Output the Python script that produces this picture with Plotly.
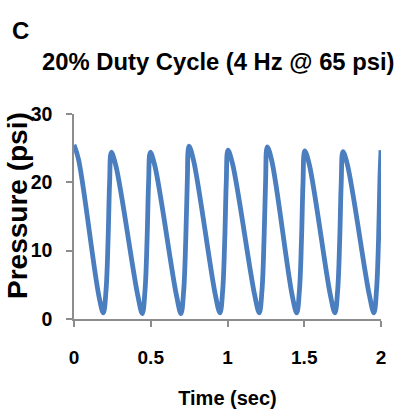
import plotly.graph_objects as go

# Time (sec) and pressure (psi) points
time_sec = [
    0.000, 0.030, 0.161, 0.191, 0.209, 0.222, 0.232,
    0.243, 0.273, 0.415, 0.445, 0.463, 0.476, 0.486,
    0.497, 0.527, 0.667, 0.697, 0.715, 0.728, 0.738,
    0.749, 0.779, 0.921, 0.951, 0.969, 0.982, 0.992,
    1.003, 1.033, 1.177, 1.207, 1.225, 1.238, 1.248,
    1.259, 1.289, 1.421, 1.451, 1.469, 1.482, 1.492,
    1.503, 1.533, 1.670, 1.700, 1.718, 1.731, 1.741,
    1.752, 1.782, 1.924, 1.954, 1.971, 1.984, 1.993,
    2.000,
]
pressure_psi = [
    25.5, 23.3, 3.5, 0.9, 4.3, 11.6, 20.0,
    24.4, 22.4, 3.5, 0.8, 4.3, 11.6, 20.0,
    24.4, 22.4, 3.5, 0.8, 4.3, 11.6, 20.0,
    25.3, 23.2, 3.5, 0.9, 4.3, 11.6, 20.0,
    24.7, 22.7, 3.5, 0.9, 4.3, 11.6, 20.0,
    25.2, 23.1, 3.5, 0.9, 4.3, 11.6, 20.0,
    24.6, 22.6, 3.5, 0.9, 4.3, 11.6, 20.0,
    24.5, 22.5, 3.5, 0.9, 4.3, 11.6, 20.5,
    24.7,
]

x_ticks = [0, 0.5, 1, 1.5, 2]
x_tick_labels = ["0", "0.5", "1", "1.5", "2"]
y_ticks = [0, 10, 20, 30]
y_tick_labels = ["0", "10", "20", "30"]

title_text = "20% Duty Cycle (4 Hz @ 65 psi)"
panel_label = "C"
x_title = "Time (sec)"
y_title = "Pressure (psi)"

FONT = "Liberation Sans, Arial, sans-serif"
AXIS_COLOR = "#8c8c8c"

ML, MR, MT, MB = 74, 19, 114, 98
W, H = 400, 417
pw, ph = W - ML - MR, H - MT - MB


def px_to_paper(px, py):
    return (px - ML) / pw, (H - MB - py) / ph


fig = go.Figure()
fig.add_trace(go.Scatter(
    x=time_sec, y=pressure_psi, mode="lines",
    line=dict(color="#4a7ebf", width=4.8, shape="spline", smoothing=1.0),
    showlegend=False,
))

tx, ty = px_to_paper(218, 61)
cx, cy = px_to_paper(20, 30)
yx, yy = px_to_paper(17, 206)
fig.update_layout(
    width=W, height=H,
    margin=dict(l=ML, r=MR, t=MT, b=MB),
    paper_bgcolor="white", plot_bgcolor="white",
    font=dict(family=FONT, color="black"),
    annotations=[
        dict(text="<b>%s</b>" % title_text, x=tx, y=ty, xref="paper", yref="paper",
             xanchor="center", yanchor="middle", showarrow=False,
             font=dict(size=23.8, family=FONT)),
        dict(text="<b>%s</b>" % panel_label, x=cx, y=cy, xref="paper", yref="paper",
             xanchor="center", yanchor="middle", showarrow=False,
             font=dict(size=24, family=FONT)),
        dict(text="<b>%s</b>" % y_title, x=yx, y=yy, xref="paper", yref="paper",
             xanchor="center", yanchor="middle", showarrow=False, textangle=-90,
             font=dict(size=28, family=FONT)),
    ],
)

fig.update_xaxes(
    range=[0, 2], tickvals=x_ticks, ticktext=["<b>%s</b>" % t for t in x_tick_labels],
    showgrid=False, zeroline=False, showline=True, linecolor=AXIS_COLOR, linewidth=1.5,
    ticks="outside", ticklen=6, tickcolor=AXIS_COLOR, tickwidth=1.5,
    tickfont=dict(size=19, family=FONT), ticklabelstandoff=14,
    title=dict(text="<b>%s</b>" % x_title, font=dict(size=20, family=FONT), standoff=24),
)
fig.update_yaxes(
    range=[0, 30], tickvals=y_ticks, ticktext=["<b>%s</b>" % t for t in y_tick_labels],
    showgrid=False, zeroline=False, showline=True, linecolor=AXIS_COLOR, linewidth=1.5,
    ticks="outside", ticklen=6, tickcolor=AXIS_COLOR, tickwidth=1.5,
    tickfont=dict(size=19.5, family=FONT), ticklabelstandoff=10,
)

fig.write_html("out.html")
